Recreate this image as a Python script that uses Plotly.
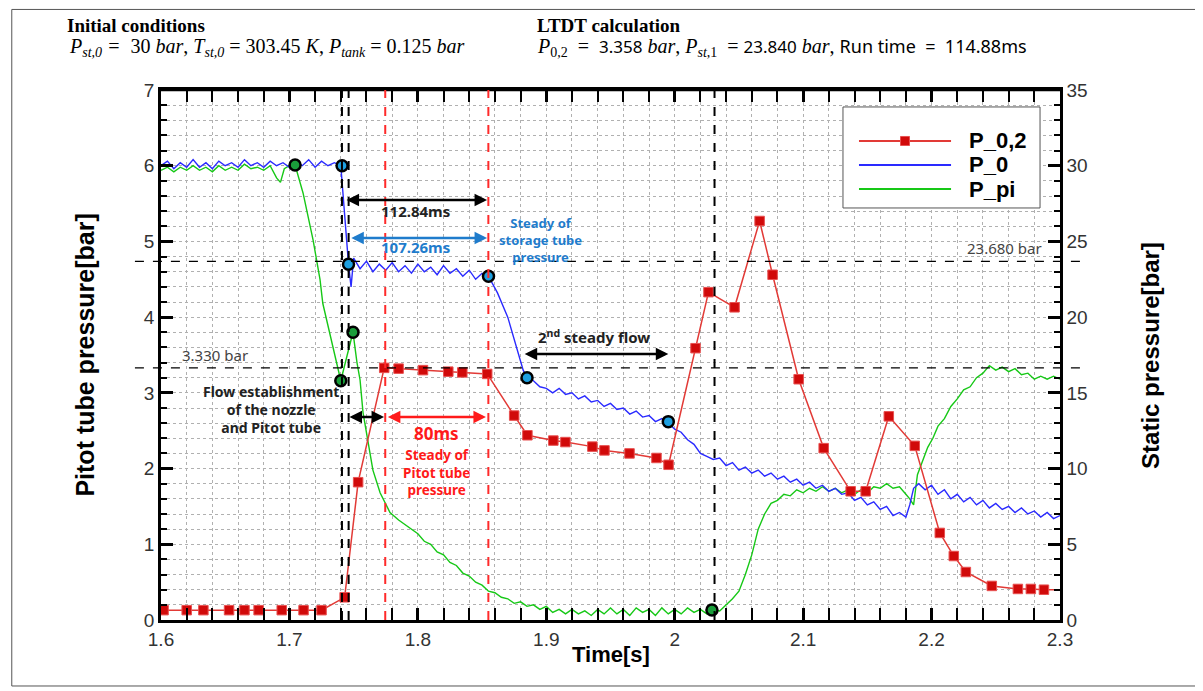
import plotly.graph_objects as go

# ---------------- data ----------------
# P_0,2 : Pitot tube pressure [bar] (left axis), sampled points with markers
p02_time = [1.602, 1.620, 1.633, 1.653, 1.665, 1.676, 1.694, 1.711, 1.725, 1.743,
            1.7535, 1.7738, 1.785, 1.804, 1.8237, 1.8346, 1.854, 1.875, 1.8853,
            1.9055, 1.9149, 1.9359, 1.9453, 1.9648, 1.9858, 1.9952, 2.0162, 2.0263,
            2.0466, 2.0661, 2.0762, 2.0965, 2.116, 2.137, 2.1487, 2.1667, 2.1869,
            2.2064, 2.2173, 2.2267, 2.2469, 2.2672, 2.2773, 2.2875]
p02_val = [0.13, 0.13, 0.13, 0.13, 0.13, 0.13, 0.13, 0.13, 0.13, 0.30,
           1.82, 3.33, 3.32, 3.30, 3.28, 3.27, 3.25, 2.70, 2.44,
           2.37, 2.35, 2.29, 2.24, 2.20, 2.14, 2.05, 3.59, 4.33,
           4.13, 5.27, 4.56, 3.18, 2.27, 1.70, 1.70, 2.69, 2.30,
           1.15, 0.845, 0.634, 0.45, 0.41, 0.41, 0.40]

# P_0 : storage tube static pressure [bar] (right axis)  (time, value)
p0_samples = [
    (1.600, 30.0), (1.605, 30.3), (1.610, 29.8), (1.615, 30.2), (1.620, 29.9), (1.625, 30.4),
    (1.630, 29.9), (1.635, 30.2), (1.640, 29.8), (1.645, 30.3), (1.650, 30.0), (1.655, 30.2),
    (1.660, 29.9), (1.665, 30.4), (1.670, 30.0), (1.675, 30.2), (1.680, 29.9), (1.685, 30.3),
    (1.690, 30.0), (1.695, 30.2), (1.700, 29.9), (1.705, 30.3), (1.710, 30.0), (1.715, 30.4),
    (1.720, 29.9), (1.725, 30.3), (1.730, 30.0), (1.735, 30.2), (1.740, 30.0),
    (1.742, 27.7), (1.744, 25.5), (1.745, 24.0), (1.746, 23.5), (1.748, 22.0),
    (1.750, 23.9), (1.755, 23.2), (1.760, 23.7), (1.765, 23.0), (1.770, 23.5), (1.775, 23.1),
    (1.780, 23.6), (1.785, 23.0), (1.790, 23.4), (1.795, 22.9), (1.800, 23.5), (1.805, 23.0),
    (1.810, 23.3), (1.815, 22.8), (1.820, 23.4), (1.825, 22.9), (1.830, 23.2), (1.835, 22.7),
    (1.840, 23.1), (1.845, 22.5), (1.850, 22.9), (1.855, 22.7),
    (1.862, 21.6), (1.870, 20.0), (1.877, 18.0), (1.882, 16.5), (1.885, 16.0),
    (1.890, 15.8), (1.895, 15.4), (1.900, 15.3), (1.905, 15.0), (1.910, 15.3), (1.915, 14.9),
    (1.920, 15.0), (1.925, 14.6), (1.930, 14.8), (1.935, 14.4), (1.940, 14.5), (1.945, 14.1),
    (1.950, 14.3), (1.955, 13.9), (1.960, 14.0), (1.965, 13.6), (1.970, 13.8), (1.975, 13.4),
    (1.980, 13.5), (1.985, 13.1), (1.990, 13.3), (1.995, 13.0), (2.000, 12.6), (2.005, 12.4),
    (2.010, 11.9), (2.015, 11.6), (2.020, 11.0), (2.025, 10.8), (2.030, 10.6), (2.035, 10.7),
    (2.040, 10.2), (2.045, 10.4), (2.050, 9.9), (2.055, 10.1), (2.060, 9.7), (2.065, 9.9),
    (2.070, 9.5), (2.075, 9.7), (2.080, 9.3), (2.085, 9.5), (2.090, 9.1), (2.095, 9.3),
    (2.100, 8.9), (2.105, 9.1), (2.110, 8.7), (2.115, 8.9), (2.120, 8.5), (2.125, 8.7),
    (2.130, 8.3), (2.135, 8.4), (2.140, 7.9), (2.145, 8.1), (2.150, 7.6), (2.155, 7.8),
    (2.160, 7.3), (2.165, 7.5), (2.170, 6.9), (2.175, 7.1), (2.180, 6.8), (2.183, 7.6),
    (2.186, 8.7), (2.190, 9.0), (2.195, 8.6), (2.200, 8.9), (2.205, 8.3), (2.210, 8.6),
    (2.215, 8.0), (2.220, 8.3), (2.225, 7.8), (2.230, 8.1), (2.235, 7.6), (2.240, 7.9),
    (2.245, 7.4), (2.250, 7.7), (2.255, 7.3), (2.260, 7.5), (2.265, 7.1), (2.270, 7.4),
    (2.275, 7.0), (2.280, 7.2), (2.285, 6.8), (2.290, 7.1), (2.295, 6.7), (2.300, 6.9),
]

# P_pi : static pressure [bar] (right axis)  (time, value)
ppi_samples = [
    (1.600, 29.7), (1.605, 29.9), (1.610, 29.6), (1.615, 29.9), (1.620, 29.7), (1.625, 30.0),
    (1.630, 29.7), (1.635, 29.9), (1.640, 29.6), (1.645, 30.0), (1.650, 29.7), (1.655, 29.9),
    (1.660, 29.7), (1.665, 30.1), (1.670, 29.8), (1.675, 29.9), (1.680, 29.7), (1.685, 30.0),
    (1.690, 29.2), (1.693, 28.9), (1.696, 29.8), (1.700, 30.0), (1.7044, 30.05),
    (1.7106, 28.2), (1.7184, 25.1), (1.7238, 22.5), (1.726, 20.9), (1.733, 18.3),
    (1.737, 17.0), (1.740, 15.8), (1.745, 17.5), (1.7495, 19.0), (1.7526, 17.0),
    (1.755, 15.85), (1.7573, 13.7), (1.761, 11.9), (1.765, 9.9), (1.7706, 8.4),
    (1.7745, 7.7), (1.7783, 7.1), (1.785, 6.6),
    (1.790, 6.3), (1.795, 6.0), (1.800, 5.7), (1.805, 5.2), (1.810, 5.0), (1.815, 4.5),
    (1.820, 4.3), (1.825, 3.8), (1.830, 3.6), (1.835, 3.1), (1.840, 2.9), (1.845, 2.5),
    (1.850, 2.3), (1.855, 1.9), (1.860, 1.8), (1.865, 1.5), (1.870, 1.4), (1.875, 1.1),
    (1.880, 1.2), (1.885, 0.9), (1.890, 1.0), (1.895, 0.7), (1.900, 0.9), (1.905, 0.5),
    (1.910, 0.7), (1.915, 0.4), (1.920, 0.7), (1.925, 0.4), (1.930, 0.6), (1.935, 0.3),
    (1.940, 0.7), (1.945, 0.4), (1.950, 0.8), (1.955, 0.4), (1.960, 0.7), (1.965, 0.3),
    (1.970, 0.8), (1.975, 0.5), (1.980, 0.7), (1.985, 0.3), (1.990, 0.8), (1.995, 0.4),
    (2.000, 0.7), (2.005, 0.4), (2.010, 0.8), (2.015, 0.5), (2.020, 0.7), (2.025, 0.4),
    (2.030, 0.66), (2.035, 0.6), (2.040, 1.0), (2.045, 1.4), (2.050, 1.9), (2.055, 3.0),
    (2.060, 4.3), (2.065, 6.0), (2.070, 7.0), (2.075, 7.7), (2.080, 7.9), (2.085, 8.3),
    (2.090, 8.2), (2.095, 8.6), (2.100, 8.4), (2.105, 8.7), (2.110, 8.5), (2.115, 8.8),
    (2.120, 8.5), (2.125, 8.7), (2.130, 8.4), (2.135, 8.6), (2.140, 8.3), (2.145, 8.6),
    (2.150, 8.4), (2.155, 8.8), (2.160, 8.7), (2.165, 9.0), (2.170, 8.7), (2.175, 8.8),
    (2.180, 8.3), (2.183, 8.0), (2.186, 7.6), (2.189, 9.6), (2.193, 10.5), (2.197, 11.4),
    (2.201, 12.0), (2.205, 12.8), (2.210, 13.3), (2.215, 14.1), (2.220, 14.6), (2.225, 15.2),
    (2.230, 15.4), (2.235, 16.0), (2.240, 16.3), (2.245, 16.8), (2.250, 16.5), (2.255, 16.7),
    (2.260, 16.4), (2.265, 16.6), (2.270, 16.2), (2.275, 16.3), (2.280, 15.9), (2.285, 16.1),
    (2.290, 15.9), (2.295, 16.1), (2.300, 15.9),
]

# highlighted event points
p0_pts_time = [1.741, 1.746, 1.855, 1.885, 1.995]
p0_pts_val = [30.0, 23.5, 22.7, 16.0, 13.1]
ppi_pts_time = [1.7044, 1.740, 1.7495, 2.029]
ppi_pts_val = [30.05, 15.8, 19.0, 0.66]

# reference lines
t_black_lines = [1.7409, 1.7461, 2.031]
t_red_lines = [1.7746, 1.8549]
p_ref_pitot = 3.330      # left axis
p_ref_static = 23.680    # right axis

x_range = [1.6, 2.3]
pitot_range = [0, 7]
static_range = [0, 35]

p0_time = [s[0] for s in p0_samples]
p0_val = [s[1] for s in p0_samples]
ppi_time = [s[0] for s in ppi_samples]
ppi_val = [s[1] for s in ppi_samples]

# ---------------- figure ----------------
RED = "#e23a36"
RED_M = "#d10a0a"
BLUE = "#2a2aff"
GREEN = "#16c816"
TXT_BLUE = "#1f7ccc"
TXT_RED = "#ff1a1a"

fig = go.Figure()

# static pressures on the main (right-side) axis y
fig.add_trace(go.Scatter(x=ppi_time, y=ppi_val, mode="lines", line=dict(color=GREEN, width=1.4),
                         name="P_pi", yaxis="y"))
fig.add_trace(go.Scatter(x=p0_time, y=p0_val, mode="lines", line=dict(color=BLUE, width=1.4),
                         name="P_0", yaxis="y"))
fig.add_trace(go.Scatter(x=p0_pts_time, y=p0_pts_val, mode="markers",
                         marker=dict(size=11, color="#1ea0e0", line=dict(color="black", width=2.5)),
                         yaxis="y"))
fig.add_trace(go.Scatter(x=ppi_pts_time, y=ppi_pts_val, mode="markers",
                         marker=dict(size=11, color="#1a9e3a", line=dict(color="black", width=2.5)),
                         yaxis="y"))
# pitot pressure on the left axis y2
fig.add_trace(go.Scatter(x=p02_time + [2.3], y=p02_val + [0.40], mode="lines",
                         line=dict(color=RED, width=1.5), yaxis="y2", name="P_0,2"))
fig.add_trace(go.Scatter(x=p02_time, y=p02_val, mode="markers",
                         marker=dict(symbol="square", size=9.5, color=RED_M,
                                     line=dict(color="#e85050", width=1)),
                         yaxis="y2"))

tickfont = dict(family="Liberation Sans, Arial", size=19, color="#333")
gridcommon = dict(showgrid=True, gridcolor="#b0b0b0", griddash="dot", gridwidth=1)
minorgrid = dict(showgrid=True, gridcolor="#b0b0b0", griddash="dot", gridwidth=1)

# page body has an 8px margin -> figure is offset by 8px; compensate
fig.update_layout(
    width=1195, height=683,
    margin=dict(l=153, r=143, t=82, b=71),
    paper_bgcolor="white", plot_bgcolor="white",
    showlegend=False,
    xaxis=dict(range=x_range, dtick=0.1, tick0=1.6, ticks="inside", ticklen=12, tickwidth=3,
               tickcolor="black", showline=True, linecolor="black", linewidth=2.5,
               mirror="allticks", zeroline=False, tickfont=tickfont,
               minor=dict(dtick=0.02, ticks="inside", ticklen=6, tickwidth=1.5, tickcolor="black",
                          **minorgrid),
               **gridcommon),
    yaxis=dict(range=static_range, dtick=5, tick0=0, side="right", ticks="inside", ticklen=12,
               tickwidth=3, tickcolor="black", showline=True, linecolor="black", linewidth=2.5,
               zeroline=False, tickfont=tickfont,
               minor=dict(dtick=1, ticks="inside", ticklen=6, tickwidth=1.5, tickcolor="black",
                          **minorgrid),
               **gridcommon),
    yaxis2=dict(range=pitot_range, dtick=1, tick0=0, side="left", overlaying="y", anchor="x",
                ticks="inside", ticklen=12, tickwidth=3, tickcolor="black", showline=True,
                linecolor="black", linewidth=2.5, zeroline=False, showgrid=False, tickfont=tickfont,
                minor=dict(dtick=0.2, ticks="inside", ticklen=6, tickwidth=1.5, tickcolor="black",
                           showgrid=False)),
)

shapes = []
shapes.append(dict(type="line", xref="paper", yref="paper", x0=0, x1=1, y0=1, y1=1,
                   line=dict(color="black", width=2.5)))
for t in t_black_lines:
    shapes.append(dict(type="line", xref="x", yref="paper", x0=t, x1=t, y0=0, y1=1,
                       line=dict(color="black", width=2, dash="dash")))
for t in t_red_lines:
    shapes.append(dict(type="line", xref="x", yref="paper", x0=t, x1=t, y0=0, y1=1,
                       line=dict(color="#ff2a2a", width=2, dash="dash")))
shapes.append(dict(type="line", xref="paper", yref="y2", x0=-0.029, x1=1.0245,
                   y0=p_ref_pitot, y1=p_ref_pitot, line=dict(color="black", width=1.3, dash="dash")))
shapes.append(dict(type="line", xref="paper", yref="y", x0=-0.029, x1=1.0245,
                   y0=p_ref_static, y1=p_ref_static, line=dict(color="black", width=1.3, dash="dash")))
# outer border (kept inside the figure area)
shapes.append(dict(type="rect", xref="paper", yref="paper", x0=-0.166, x1=1.1513, y0=-0.1245,
                   y1=1.152, line=dict(color="#555", width=1)))
# manual legend
lx0, lx1 = 0.7586, 0.9778
shapes.append(dict(type="rect", xref="paper", yref="paper", x0=lx0, x1=lx1, y0=0.7774, y1=0.968,
                   line=dict(color="#555", width=1), fillcolor="white"))
leg_items = [("P_0,2", RED, 0.9038), ("P_0", BLUE, 0.8585), ("P_pi", GREEN, 0.8132)]
for name, col, yy in leg_items:
    shapes.append(dict(type="line", xref="paper", yref="paper", x0=0.7764, x1=0.8788, y0=yy, y1=yy,
                       line=dict(color=col, width=2)))
shapes.append(dict(type="rect", xref="paper", yref="paper", x0=0.8226, x1=0.8326, y0=0.9038 - 0.0085,
                   y1=0.9038 + 0.0085, line=dict(color="#e85050", width=1), fillcolor=RED_M))
fig.update_layout(shapes=shapes)

ann = []
for name, col, yy in leg_items:
    ann.append(dict(xref="paper", yref="paper", x=0.8966, y=yy, text="<b>%s</b>" % name,
                    showarrow=False, xanchor="left", yanchor="middle",
                    font=dict(family="Liberation Sans, Arial", size=22, color="black")))

# axis titles
ann.append(dict(xref="paper", yref="paper", x=-0.085, y=0.5, text="<b>Pitot tube pressure[bar]</b>",
                textangle=-90, showarrow=False, xanchor="center", yanchor="middle",
                font=dict(family="Liberation Sans, Arial", size=25, color="black")))
ann.append(dict(xref="paper", yref="paper", x=1.1, y=0.5, text="<b>Static pressure[bar]</b>",
                textangle=-90, showarrow=False, xanchor="center", yanchor="middle",
                font=dict(family="Liberation Sans, Arial", size=24, color="black")))
ann.append(dict(xref="paper", yref="paper", x=0.5, y=-0.066, text="<b>Time[s]</b>",
                showarrow=False, xanchor="center", yanchor="middle",
                font=dict(family="Liberation Sans, Arial", size=22, color="black")))

# header texts
SERIF = "Liberation Serif, Cambria, serif"
SANS = "Noto Sans, sans-serif"
ann.append(dict(xref="paper", yref="paper", x=-0.1068, y=1.1226, text="<b>Initial conditions</b>",
                showarrow=False, xanchor="left", yanchor="middle",
                font=dict(family=SERIF, size=19, color="black")))
ann.append(dict(xref="paper", yref="paper", x=-0.1045, y=1.0811,
                text="<i>P</i><sub><i>st,0</i></sub> <i>=</i>  30 <i>bar</i>, <i>T</i><sub><i>st,0</i></sub> = 303.45 <i>K</i>, "
                     "<i>P</i><sub><i>tank</i></sub> = 0.125 <i>bar</i>",
                showarrow=False, xanchor="left", yanchor="middle",
                font=dict(family=SERIF, size=20, color="black")))
ann.append(dict(xref="paper", yref="paper", x=0.416, y=1.1226, text="<b>LTDT calculation</b>",
                showarrow=False, xanchor="left", yanchor="middle",
                font=dict(family=SERIF, size=19, color="black")))
ann.append(dict(xref="paper", yref="paper", x=0.416, y=1.0811,
                text="<i>P</i><sub>0,2</sub>  =  <span style='font-family:Noto Sans;font-size:17px'>3.358</span> <i>bar</i>, "
                     "<i>P</i><sub><i>st</i>,1</sub>  = <span style='font-family:Noto Sans;font-size:17px'>23.840</span> <i>bar</i>, "
                     "<span style='font-family:Noto Sans;font-size:18px'>Run time  =  114.88ms</span>",
                showarrow=False, xanchor="left", yanchor="middle",
                font=dict(family=SERIF, size=20, color="black")))

# reference-line labels
ann.append(dict(xref="paper", yref="y2", x=0.021, y=p_ref_pitot, text="3.330 bar", showarrow=False,
                xanchor="left", yanchor="bottom", yshift=1,
                font=dict(family=SANS, size=15, color="#444")))
ann.append(dict(xref="paper", yref="y", x=0.982, y=p_ref_static, text="23.680 bar", showarrow=False,
                xanchor="right", yanchor="bottom", yshift=1,
                font=dict(family=SANS, size=15, color="#444")))

# arrows (double headed)
def darrow(x0, x1, y, yref, color):
    return dict(xref="x", yref=yref, axref="x", ayref=yref, x=x1, y=y, ax=x0, ay=y, text="",
                showarrow=True, arrowhead=2, startarrowhead=2, arrowside="end+start",
                arrowsize=1, startarrowsize=1, arrowwidth=2.5, arrowcolor=color)

ann.append(darrow(1.7433, 1.8539, 5.547, "y2", "black"))
ann.append(darrow(1.7470, 1.8539, 5.045, "y2", TXT_BLUE))
ann.append(darrow(1.8820, 1.9950, 3.513, "y2", "black"))
ann.append(darrow(1.7456, 1.7737, 2.68, "y2", "black"))
ann.append(darrow(1.7755, 1.8530, 2.68, "y2", "#ff1a1a"))

def label(x, y, text, color, size):
    return dict(xref="x", yref="y2", x=x, y=y, text=text, showarrow=False, xanchor="center",
                yanchor="middle", font=dict(family=SANS, size=size, color=color))

ann.append(label(1.7985, 5.40, "<b>112.84ms</b>", "#222", 15))
ann.append(label(1.7985, 4.92, "<b>107.26ms</b>", TXT_BLUE, 15))
ann.append(label(1.8955, 5.02, "<b>Steady of<br>storage tube<br>pressure</b>", TXT_BLUE, 13))
ann.append(label(1.9375, 3.75, "<b>2<sup>nd</sup> steady flow</b>", "#222", 15))
ann.append(label(1.6855, 2.78, "<b>Flow establishment<br>of the nozzle<br>and Pitot tube</b>", "#222", 14))
ann.append(label(1.8145, 2.46, "<b>80ms</b>", TXT_RED, 17))
ann.append(label(1.8145, 1.95, "<b>Steady of<br>Pitot tube<br>pressure</b>", TXT_RED, 13.5))

fig.update_layout(annotations=ann)

fig.write_html("out.html")
